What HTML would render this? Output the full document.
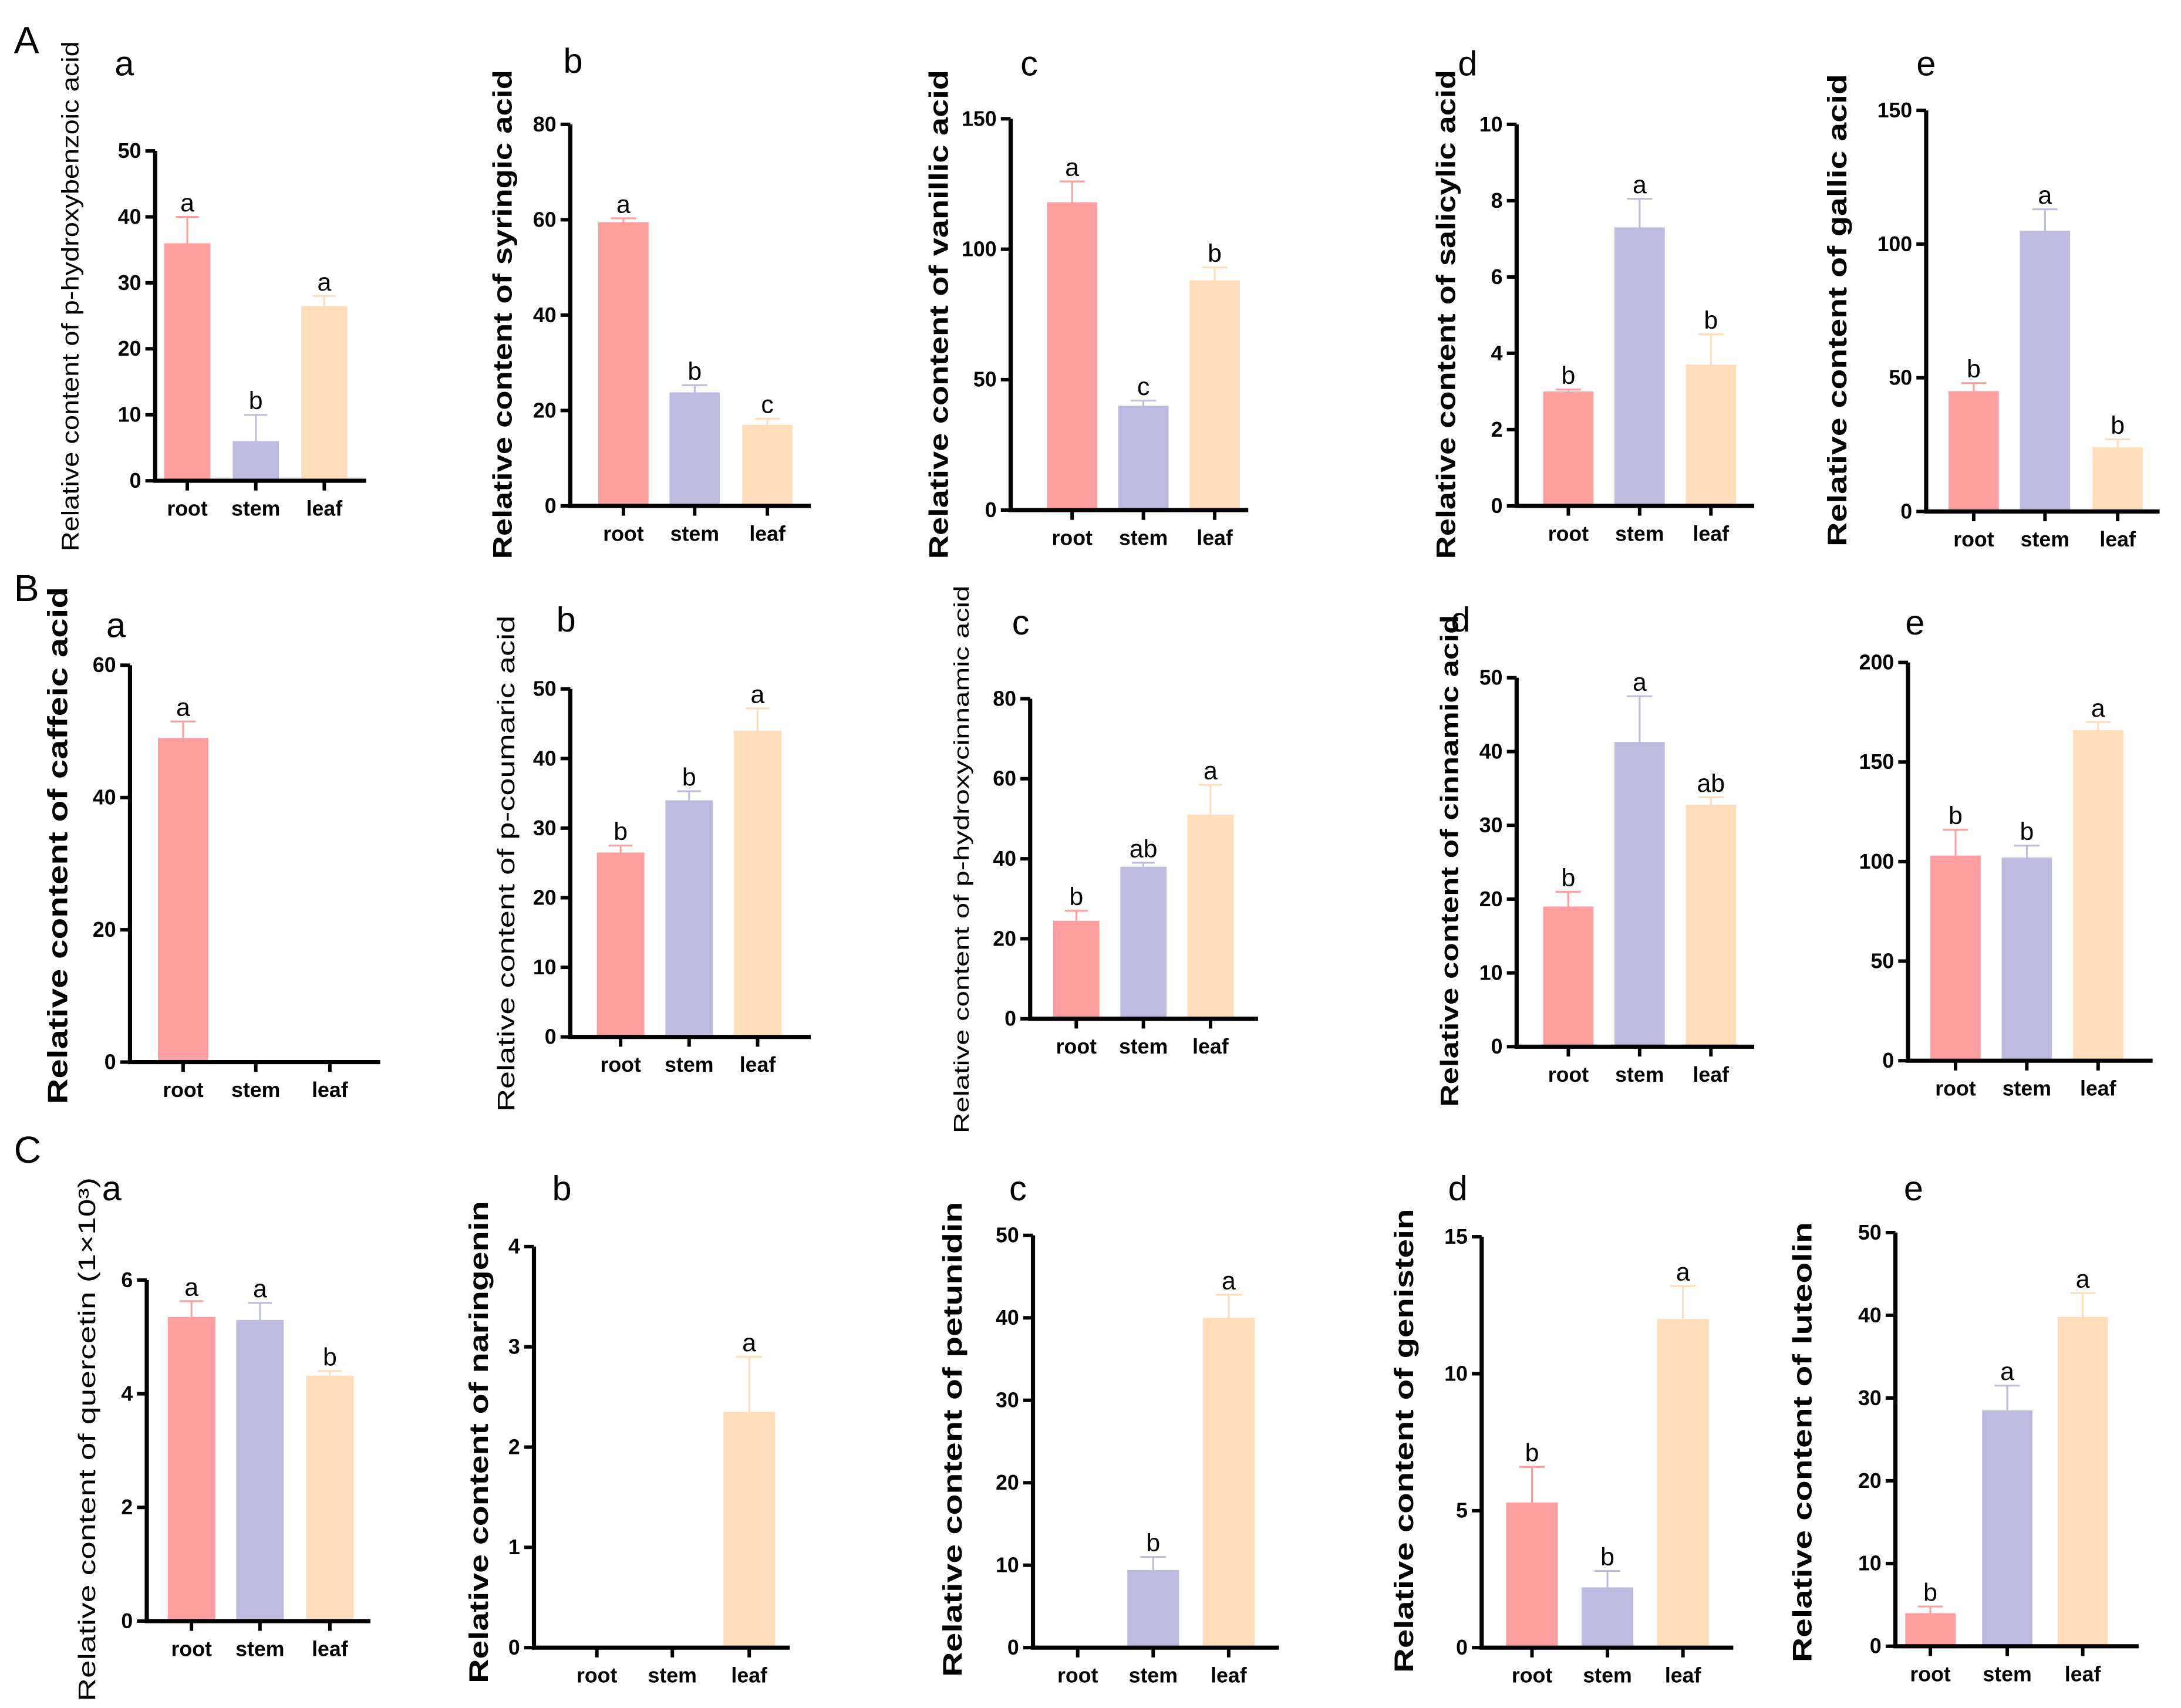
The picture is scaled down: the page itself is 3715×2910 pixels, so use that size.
<!DOCTYPE html>
<html><head><meta charset="utf-8"><style>
html,body{margin:0;padding:0;background:#fff;}
svg{display:block;font-family:"Liberation Sans",Arial,sans-serif;}
</style></head><body>
<svg id="fig" width="3715" height="2910" viewBox="0 0 1560.3 1222.2" preserveAspectRatio="none" xmlns="http://www.w3.org/2000/svg">
<text x="10" y="38" font-size="27">A</text>
<text x="10" y="430" font-size="27">B</text>
<text x="10" y="832" font-size="27">C</text>
</svg>
<script>
const categories = ["root","stem","leaf"];
const colors = ["#FF9E9F","#BDBBE0","#FFDDBB"];
// Row A
const aaValues=[36,6,26.5], aaErr=[40,10,28], aaLetters=["a","b","a"], aaTicks=[0,10,20,30,40,50];
const abValues=[59.5,23.8,17], abErr=[60.3,25.3,18.3], abLetters=["a","b","c"], abTicks=[0,20,40,60,80];
const acValues=[118,40,88], acErr=[126,42,93], acLetters=["a","c","b"], acTicks=[0,50,100,150];
const adValues=[3.0,7.3,3.7], adErr=[3.05,8.05,4.5], adLetters=["b","a","b"], adTicks=[0,2,4,6,8,10];
const aeValues=[45,105,24], aeErr=[48,113,27], aeLetters=["b","a","b"], aeTicks=[0,50,100,150];
// Row B
const baValues=[49,0,0], baErr=[51.5,0,0], baLetters=["a","",""], baTicks=[0,20,40,60];
const bbValues=[26.5,34,44], bbErr=[27.5,35.3,47.2], bbLetters=["b","b","a"], bbTicks=[0,10,20,30,40,50];
const bcValues=[24.5,38,51], bcErr=[27,39,58.5], bcLetters=["b","ab","a"], bcTicks=[0,20,40,60,80];
const bdValues=[19,41.3,32.8], bdErr=[21,47.5,33.8], bdLetters=["b","a","ab"], bdTicks=[0,10,20,30,40,50];
const beValues=[103,102,166], beErr=[116,108,170], beLetters=["b","b","a"], beTicks=[0,50,100,150,200];
// Row C
const caValues=[5.35,5.3,4.32], caErr=[5.63,5.6,4.4], caLetters=["a","a","b"], caTicks=[0,2,4,6];
const cbValues=[0,0,2.35], cbErr=[0,0,2.9], cbLetters=["","","a"], cbTicks=[0,1,2,3,4];
const ccValues=[0,9.4,40], ccErr=[0,11,42.8], ccLetters=["","b","a"], ccTicks=[0,10,20,30,40,50];
const cdValues=[5.3,2.2,12], cdErr=[6.6,2.8,13.2], cdLetters=["b","b","a"], cdTicks=[0,5,10,15];
const ceValues=[4,28.5,39.8], ceErr=[4.8,31.5,42.7], ceLetters=["b","a","a"], ceTicks=[0,10,20,30,40,50];

const NS="http://www.w3.org/2000/svg";
const svg=document.getElementById('fig');
function mk(tag,attrs,parent){const e=document.createElementNS(NS,tag);for(const k in attrs)e.setAttribute(k,attrs[k]);(parent||svg).appendChild(e);return e;}

const panels=[
 {id:"A-a",v:aaValues,e:aaErr,l:aaLetters,t:aaTicks,ax:111,top:108,zero:344,end:262,cx:[134,183,232],bw:33,title:"Relative content of p-hydroxybenzoic acid",tx:50,ty:212,tlen:365,tw:"normal",tfs:17,pl:"a",plx:82,ply:54},
 {id:"A-b",v:abValues,e:abErr,l:abLetters,t:abTicks,ax:408,top:89,zero:362,end:580,cx:[446,497,549],bw:36,title:"Relative content of syringic acid",tx:360,ty:225,tlen:350,tw:"bold",tfs:19,pl:"b",plx:403,ply:52},
 {id:"A-c",v:acValues,e:acErr,l:acLetters,t:acTicks,ax:723,top:85,zero:365,end:893,cx:[767,818,869],bw:36,title:"Relative content of vanillic acid",tx:672,ty:225,tlen:350,tw:"bold",tfs:19,pl:"c",plx:730,ply:54},
 {id:"A-d",v:adValues,e:adErr,l:adLetters,t:adTicks,ax:1085,top:89,zero:362,end:1255,cx:[1122,1173,1224],bw:36,title:"Relative content of salicylic acid",tx:1035,ty:225,tlen:350,tw:"bold",tfs:19,pl:"d",plx:1043,ply:54},
 {id:"A-e",v:aeValues,e:aeErr,l:aeLetters,t:aeTicks,ax:1378,top:79,zero:366,end:1545,cx:[1412,1463,1515],bw:36,title:"Relative content of gallic acid",tx:1315,ty:222,tlen:338,tw:"bold",tfs:19,pl:"e",plx:1371,ply:54},
 {id:"B-a",v:baValues,e:baErr,l:baLetters,t:baTicks,ax:93,top:476,zero:760,end:272,cx:[131,183,236],bw:36,title:"Relative content of caffeic acid",tx:42,ty:605,tlen:370,tw:"bold",tfs:20,pl:"a",plx:76,ply:456},
 {id:"B-b",v:bbValues,e:bbErr,l:bbLetters,t:bbTicks,ax:408,top:493,zero:742,end:580,cx:[444,493,542],bw:34,title:"Relative content of p-coumaric acid",tx:362,ty:618,tlen:355,tw:"normal",tfs:17,pl:"b",plx:398,ply:452},
 {id:"B-c",v:bcValues,e:bcErr,l:bcLetters,t:bcTicks,ax:737,top:500,zero:729,end:900,cx:[770,818,866],bw:33,title:"Relative content of p-hydroxycinnamic acid",tx:687,ty:615,tlen:392,tw:"normal",tfs:15,pl:"c",plx:724,ply:454},
 {id:"B-d",v:bdValues,e:bdErr,l:bdLetters,t:bdTicks,ax:1085,top:485,zero:749,end:1255,cx:[1122,1173,1224],bw:36,title:"Relative content of cinnamic acid",tx:1037,ty:616,tlen:352,tw:"bold",tfs:18,pl:"d",plx:1038,ply:452},
 {id:"B-e",v:beValues,e:beErr,l:beLetters,t:beTicks,ax:1365,top:474,zero:759,end:1540,cx:[1399,1450,1501],bw:36,title:"",pl:"e",plx:1363,ply:454},
 {id:"C-a",v:caValues,e:caErr,l:caLetters,t:caTicks,ax:105,top:916,zero:1160,end:265,cx:[137,186,236],bw:34,title:"Relative content of quercetin (1×10³)",tx:62,ty:1030,tlen:375,tw:"normal",tfs:17,pl:"a",plx:73,ply:859},
 {id:"C-b",v:cbValues,e:cbErr,l:cbLetters,t:cbTicks,ax:382,top:892,zero:1179,end:565,cx:[427,481,536],bw:37,title:"Relative content of naringenin",tx:343,ty:1032,tlen:345,tw:"bold",tfs:19,pl:"b",plx:395,ply:859},
 {id:"C-c",v:ccValues,e:ccErr,l:ccLetters,t:ccTicks,ax:739,top:884,zero:1179,end:915,cx:[771,825,879],bw:37,title:"Relative content of petunidin",tx:682,ty:1030,tlen:340,tw:"bold",tfs:19,pl:"c",plx:722,ply:859},
 {id:"C-d",v:cdValues,e:cdErr,l:cdLetters,t:cdTicks,ax:1060,top:885,zero:1179,end:1240,cx:[1096,1150,1204],bw:37,title:"Relative content of genistein",tx:1005,ty:1031,tlen:332,tw:"bold",tfs:19,pl:"d",plx:1036,ply:859},
 {id:"C-e",v:ceValues,e:ceErr,l:ceLetters,t:ceTicks,ax:1356,top:882,zero:1178,end:1530,cx:[1381,1436,1490],bw:36,title:"Relative content of luteolin",tx:1290,ty:1032,tlen:315,tw:"bold",tfs:19,pl:"e",plx:1362,ply:859}
];

panels.forEach(p=>{
  const g=mk('g',{});
  
  
  const ymax=p.t[p.t.length-1];
  const y=val=>p.zero-(val/ymax)*(p.zero-p.top);
  p.v.forEach((val,i)=>{
    const col=colors[i];
    if(val>0){
      const r=mk('rect',{x:p.cx[i]-p.bw/2,y:y(val),width:p.bw,height:p.zero-y(val),fill:col},g);
      
      
    }
    if(p.e[i]>val){
      const eb=mk('path',{d:`M${p.cx[i]} ${y(val)}V${y(p.e[i])}M${p.cx[i]-p.bw/4} ${y(p.e[i])}H${p.cx[i]+p.bw/4}`,stroke:col,'stroke-width':1.3,fill:'none'},g);
      
      
    }
    if(p.l[i]){
      const top=Math.max(val,p.e[i]);
      const lt=mk('text',{x:p.cx[i],y:y(top)-4,'font-size':18,'text-anchor':'middle'},g);
      lt.textContent=p.l[i];
      
      
    }
  });
  const axis=mk('path',{d:`M${p.ax} ${p.top}V${p.zero}H${p.end}`,stroke:'#000','stroke-width':3,fill:'none'},g);
  
  
  p.t.forEach(tv=>{
    mk('line',{x1:p.ax-7,x2:p.ax,y1:y(tv),y2:y(tv),stroke:'#000','stroke-width':2.5},g);
    const tl=mk('text',{x:p.ax-10,y:y(tv)+5,'font-size':15,'font-weight':'bold','text-anchor':'end'},g);
    tl.textContent=tv;
    
    
  });
  categories.forEach((c,i)=>{
    mk('line',{x1:p.cx[i],x2:p.cx[i],y1:p.zero,y2:p.zero+7,stroke:'#000','stroke-width':2.5},g);
    const cl=mk('text',{x:p.cx[i],y:p.zero+25,'font-size':15,'font-weight':'bold','text-anchor':'middle'},g);
    cl.textContent=c;
    
    
  });
  if(p.title){
    const tt=mk('text',{x:0,y:0,'font-size':p.tfs,'font-weight':p.tw,'text-anchor':'middle',transform:`translate(${p.tx+6},${p.ty}) rotate(-90)`,textLength:p.tlen,lengthAdjust:'spacingAndGlyphs'},g);
    tt.textContent=p.title;
    
    
  }
  const pl=mk('text',{x:p.plx,y:p.ply,'font-size':25},g);
  pl.textContent=p.pl;
  
  
});
</script>
</body></html>
